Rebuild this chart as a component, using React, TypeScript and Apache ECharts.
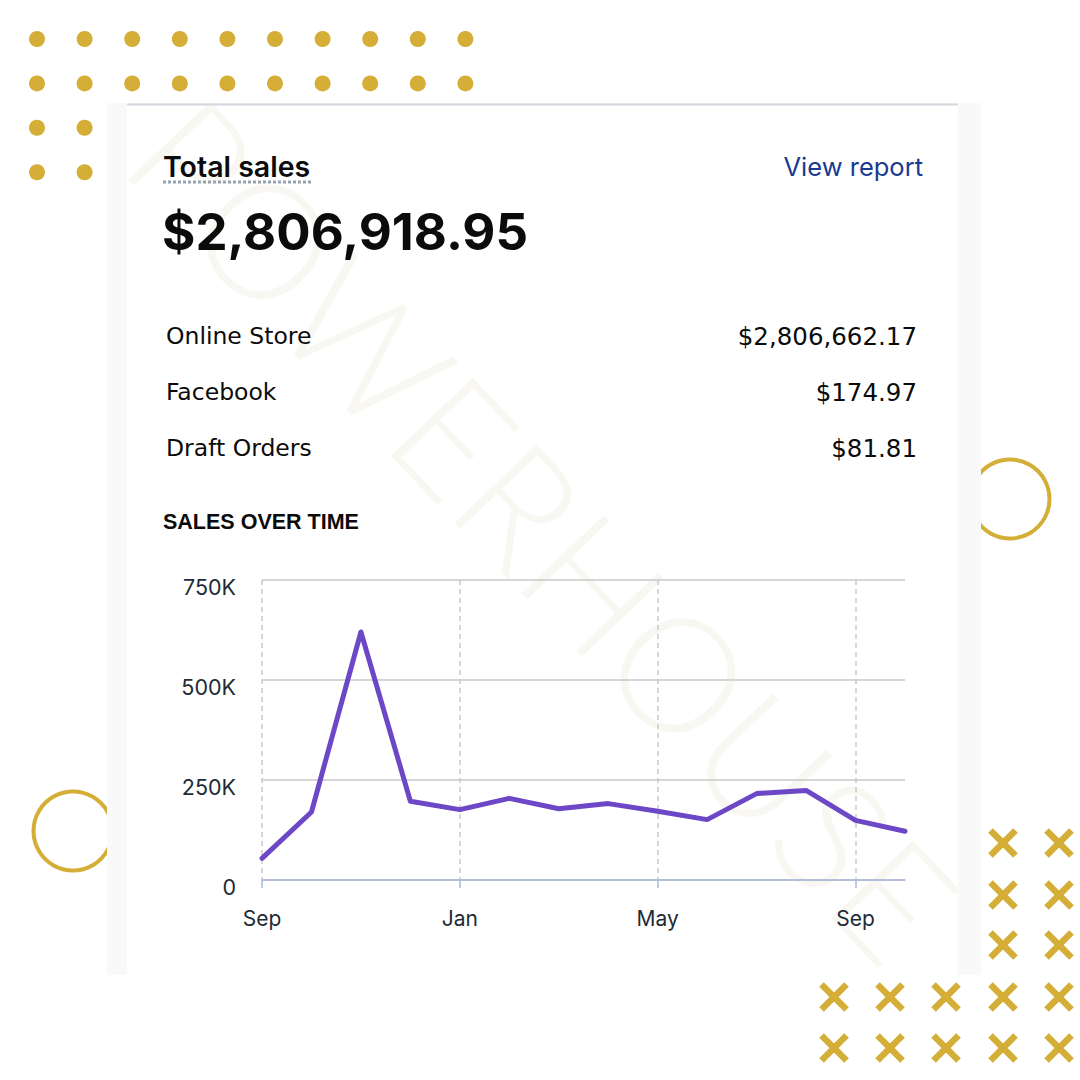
import React, { useEffect, useRef } from "react";
import * as echarts from "echarts";

// Monthly sales, Sep through the following Oct
const months = ["Sep", "Oct", "Nov", "Dec", "Jan", "Feb", "Mar", "Apr", "May", "Jun", "Jul", "Aug", "Sep", "Oct"];
const sales = [54000, 170000, 620000, 197000, 176000, 204000, 178000, 191000, 172000, 151000, 216000, 224000, 149000, 122000];
const yTicks = [0, 250000, 500000, 750000];

const channelNames = ["Online Store", "Facebook", "Draft Orders"];
const channelTotals = ["$2,806,662.17", "$174.97", "$81.81"];
const totalLabel = "$2,806,918.95";

const GOLD = "#d4ae37";
const FONT = "Inter, 'Noto Sans', sans-serif";
const SANS = "'Liberation Sans', Arial, sans-serif";
const ROWS = "'DejaVu Sans', sans-serif";

function decorations(): any[] {
  const els: any[] = [];
  // dot grid top-left
  for (let r = 0; r < 4; r++) {
    for (let c = 0; c < 10; c++) {
      els.push({
        type: "circle",
        z: -30,
        shape: { cx: 37 + c * 47.6, cy: 39 + r * 44.4, r: 8 },
        style: { fill: GOLD },
      });
    }
  }
  // rings
  [[73, 831], [1010, 499]].forEach(([cx, cy]) => {
    els.push({
      type: "circle",
      z: -30,
      shape: { cx, cy, r: 39.5 },
      style: { fill: "none", stroke: GOLD, lineWidth: 4 },
    });
  });
  // crosses bottom-right
  const colX = [834, 890, 946, 1003, 1059];
  const rowY = [843, 895, 945, 997, 1048];
  rowY.forEach((y, ri) => {
    colX.forEach((x, ci) => {
      if (ri < 3 && ci < 3) return;
      const h = 12.5;
      els.push({
        type: "line",
        z: -30,
        shape: { x1: x - h, y1: y - h, x2: x + h, y2: y + h },
        style: { stroke: GOLD, lineWidth: 6.5 },
      });
      els.push({
        type: "line",
        z: -30,
        shape: { x1: x - h, y1: y + h, x2: x + h, y2: y - h },
        style: { stroke: GOLD, lineWidth: 6.5 },
      });
    });
  });
  return els;
}

function card(): any[] {
  const els: any[] = [
    { type: "rect", z: -20, shape: { x: 107, y: 103, width: 874, height: 872 }, style: { fill: "#f9f9f9" } },
    { type: "rect", z: -19, shape: { x: 127, y: 105, width: 831, height: 870 }, style: { fill: "#ffffff" } },
    { type: "line", z: -14, shape: { x1: 127, y1: 104.5, x2: 958, y2: 104.5 }, style: { stroke: "#d3d6dc", lineWidth: 2 } },
    {
      type: "text",
      z: -15,
      x: 545,
      y: 528,
      rotation: -0.81,
      style: {
        text: "POWERHOUSE",
        font: "300 160px Lato, Inter, sans-serif",
        fill: "#f8f7f2",
        align: "center",
        verticalAlign: "middle",
      },
    },
    {
      type: "text",
      z: 5,
      x: 163,
      y: 166,
      style: { text: "Total sales", font: `600 28.5px ${FONT}`, fill: "#0b0b0b", verticalAlign: "middle" },
    },
    {
      type: "line",
      z: 5,
      shape: { x1: 163, y1: 182, x2: 312, y2: 182 },
      style: { stroke: "#97a3b4", lineWidth: 3, lineDash: [3, 2] },
    },
    {
      type: "text",
      z: 5,
      x: 923,
      y: 166,
      style: { text: "View report", font: `400 25.5px ${FONT}`, fill: "#1a3a8f", align: "right", verticalAlign: "middle" },
    },
    {
      type: "text",
      z: 5,
      x: 162,
      y: 231,
      style: { text: totalLabel, font: `700 51px ${FONT}`, fill: "#0b0b0b", verticalAlign: "middle" },
    },
    {
      type: "text",
      z: 5,
      x: 163,
      y: 522,
      style: { text: "SALES OVER TIME", font: `700 21.5px ${SANS}`, fill: "#0b0b0b", verticalAlign: "middle" },
    },
  ];
  channelNames.forEach((name, i) => {
    const y = 336 + i * 56;
    els.push({
      type: "text",
      z: 5,
      x: 166,
      y,
      style: { text: name, font: `400 23.5px ${ROWS}`, fill: "#0b0b0b", verticalAlign: "middle" },
    });
    els.push({
      type: "text",
      z: 5,
      x: 917,
      y,
      style: { text: channelTotals[i], font: `400 24.5px ${ROWS}`, fill: "#0b0b0b", align: "right", verticalAlign: "middle" },
    });
  });
  return els;
}

export default function App() {
  const ref = useRef<HTMLDivElement>(null);

  useEffect(() => {
    if (!ref.current) return;
    const chart = echarts.init(ref.current, null, { renderer: "svg" });
    const axisText = "#212b36";
    chart.setOption({
      animation: false,
      backgroundColor: "#ffffff",
      graphic: { elements: [...decorations(), ...card()] },
      grid: { left: 262, right: 175, top: 580, bottom: 200, containLabel: false },
      xAxis: {
        type: "category",
        data: months,
        boundaryGap: false,
        axisLine: { show: true, lineStyle: { color: "#a9b7dc", width: 1.5 } },
        axisTick: { show: true, interval: 3, length: 8, lineStyle: { color: "#a9b7dc", width: 1.5 } },
        axisLabel: { interval: 3, margin: 28, color: axisText, fontSize: 21, fontFamily: FONT },
        splitLine: { show: true, interval: 3, lineStyle: { color: "#c9c9c9", width: 1.5, type: [5, 4] } },
      },
      yAxis: {
        type: "value",
        min: yTicks[0],
        max: yTicks[yTicks.length - 1],
        interval: yTicks[1] - yTicks[0],
        axisLine: { show: false },
        axisTick: { show: false },
        axisLabel: {
          margin: 26,
          color: axisText,
          fontSize: 21.5,
          fontFamily: FONT,
          verticalAlign: "top",
          lineHeight: 14,
          formatter: (v: number) => (v === 0 ? "0" : `${v / 1000}K`),
        },
        splitLine: { show: true, lineStyle: { color: "#c9c9c9", width: 1.5 } },
      },
      series: [
        {
          type: "line",
          data: sales,
          symbol: "none",
          lineStyle: { color: "#6d48c6", width: 5, cap: "round", join: "round" },
          z: 3,
        },
      ],
    });
    return () => chart.dispose();
  }, []);

  return (
    <div
      ref={ref}
      style={{ position: "absolute", left: 0, top: 0, width: 1080, height: 1080 }}
    />
  );
}
